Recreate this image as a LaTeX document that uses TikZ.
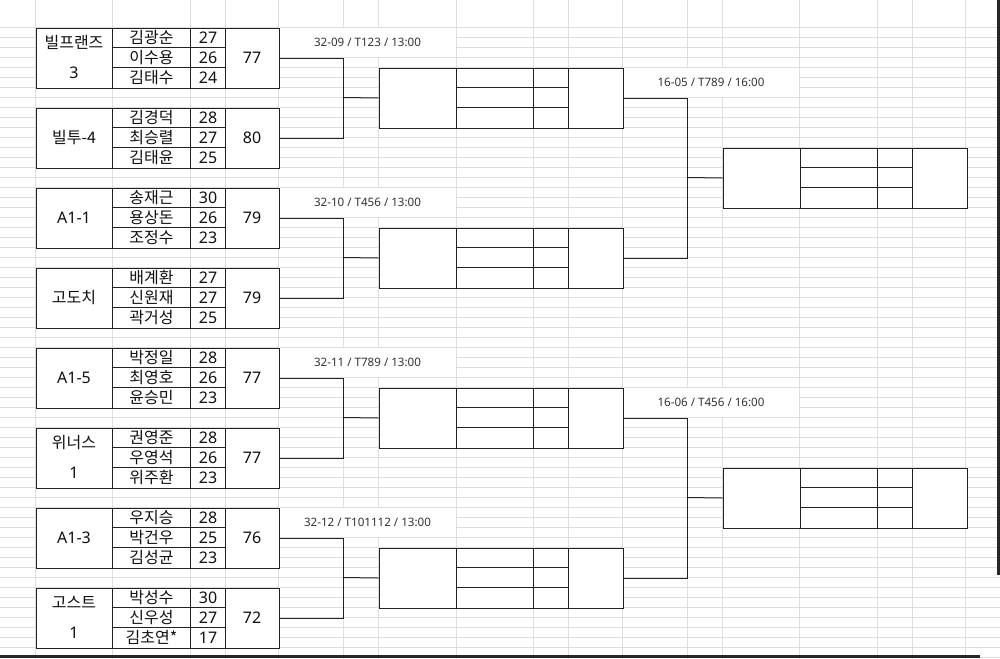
\documentclass[tikz,border=0pt]{standalone}
\usepackage{fontspec}
\setmainfont{Noto Sans}
\newfontfamily\kr{Noto Sans CJK KR}
\usetikzlibrary{calc}
\definecolor{gridc}{HTML}{DEDEDE}
\definecolor{linec}{HTML}{222222}
\definecolor{txtc}{HTML}{111111}
\definecolor{lblc}{HTML}{333333}
\tikzset{
  gridline/.style={draw=gridc, line width=0.75pt},
  boxst/.style={draw=linec, fill=white, line width=0.75pt, inner sep=0pt},
  bx/.style={draw=linec, line width=0.75pt},
  conn/.style={draw=linec, line width=0.75pt},
  krtxt/.style={inner sep=0pt, text=txtc, font=\kr\fontsize{12}{14}\selectfont},
  numtxt/.style={inner sep=0pt, text=txtc, font=\fontsize{12}{14}\selectfont},
  lbl/.style={inner sep=0pt, text=lblc, font=\fontsize{8.7}{10}\selectfont},
}
\newcommand\teambox[9]{%
  \node[boxst, minimum width=182.25pt, minimum height=45pt, anchor=north west] (#1) at (35,#2) {};
  \draw[bx] (112,#2) -- (112,{#2+60}) (190,#2) -- (190,{#2+60}) (225,#2) -- (225,{#2+60});
  \draw[bx] (112,{#2+20}) -- (225,{#2+20}) (112,{#2+40}) -- (225,{#2+40});
  \node[krtxt] (#1p1) at (151,{#2+10}) {#3};
  \node[krtxt] (#1p2) at (151,{#2+30}) {#5};
  \node[krtxt] (#1p3) at (151,{#2+50}) {#7};
  \node[numtxt] (#1s1) at (207.5,{#2+10}) {#4};
  \node[numtxt] (#1s2) at (207.5,{#2+30}) {#6};
  \node[numtxt] (#1s3) at (207.5,{#2+50}) {#8};
  \node[numtxt] (#1tot) at (251.5,{#2+30}) {#9};
}
\newcommand\matchbox[3]{%
  \node[boxst, minimum width=183pt, minimum height=45pt, anchor=north west] (#1) at (#2,#3) {};
  \draw[bx] ({#2+78},#3) -- ({#2+78},{#3+60}) ({#2+155},#3) -- ({#2+155},{#3+60}) ({#2+190},#3) -- ({#2+190},{#3+60});
  \draw[bx] ({#2+78},{#3+20}) -- ({#2+190},{#3+20}) ({#2+78},{#3+40}) -- ({#2+190},{#3+40});
}
\begin{document}
\begin{tikzpicture}[x=0.75pt,y=-0.75pt]
\useasboundingbox (0,0) rectangle (1000,658);
\fill[white] (0,0) rectangle (1000,658);
\begin{scope}[shift={(0.5,0.5)}]
% spreadsheet grid
\foreach \x in {35,112,190,225,278,343,378,456,533,568,622,687,722,799,877,912,965}
  \draw[gridline] (\x,-1) -- (\x,658);
\foreach \y in {27,37,...,657}
  \draw[gridline] (-1,\y) -- (1000,\y);
% merged label cells
\foreach \y in {27,187,347,507}
  \fill[white] (278.6,{\y+0.6}) rectangle (455.4,{\y+29.4});
\foreach \y in {67,387}
  \fill[white] (622.6,{\y+0.6}) rectangle (798.4,{\y+29.4});

% team boxes
\teambox{t1}{27}{김광순}{27}{이수용}{26}{김태수}{24}{77}
\teambox{t2}{107}{김경덕}{28}{최승렬}{27}{김태윤}{25}{80}
\teambox{t3}{187}{송재근}{30}{용상돈}{26}{조정수}{23}{79}
\teambox{t4}{267}{배계환}{27}{신원재}{27}{곽거성}{25}{79}
\teambox{t5}{347}{박정일}{28}{최영호}{26}{윤승민}{23}{77}
\teambox{t6}{427}{권영준}{28}{우영석}{26}{위주환}{23}{77}
\teambox{t7}{507}{우지승}{28}{박건우}{25}{김성균}{23}{76}
\teambox{t8}{587}{박성수}{30}{신우성}{27}{김초연*}{17}{72}
% team names
\node[krtxt] (n1a) at (73.5,42) {빌프랜즈};
\node[numtxt] (n1b) at (73.5,72) {3};
\node[krtxt] (n2) at (73.5,137) {빌투-4};
\node[numtxt] (n3) at (73.5,217) {A1-1};
\node[krtxt] (n4) at (73.5,297) {고도치};
\node[numtxt] (n5) at (73.5,377) {A1-5};
\node[krtxt] (n6a) at (73.5,442) {위너스};
\node[numtxt] (n6b) at (73.5,472) {1};
\node[numtxt] (n7) at (73.5,537) {A1-3};
\node[krtxt] (n8a) at (73.5,602) {고스트};
\node[numtxt] (n8b) at (73.5,632) {1};

% round 2 and round 3 boxes
\matchbox{r1}{378}{67}
\matchbox{r2}{378}{227}
\matchbox{r3}{378}{387}
\matchbox{r4}{378}{547}
\matchbox{f1}{722}{147}
\matchbox{f2}{722}{467}

% labels
\node[lbl] (l1) at (367,42) {32-09 / T123 / 13:00};
\node[lbl] (l2) at (367,202) {32-10 / T456 / 13:00};
\node[lbl] (l3) at (367,362) {32-11 / T789 / 13:00};
\node[lbl] (l4) at (367,522) {32-12 / T101112 / 13:00};
\node[lbl] (l5) at (710.5,82) {16-05 / T789 / 16:00};
\node[lbl] (l6) at (710.5,402) {16-06 / T456 / 16:00};

% junctions
\coordinate (j1) at (343,97);
\coordinate (j2) at (343,257);
\coordinate (j3) at (343,417);
\coordinate (j4) at (343,577);
\coordinate (k1) at (687,177);
\coordinate (k2) at (687,497);

% connectors
\draw[conn] (t1.east) -| (j1) |- (t2.east);
\draw[conn] (j1) -- (r1.west);
\draw[conn] (t3.east) -| (j2) |- (t4.east);
\draw[conn] (j2) -- (r2.west);
\draw[conn] (t5.east) -| (j3) |- (t6.east);
\draw[conn] (j3) -- (r3.west);
\draw[conn] (t7.east) -| (j4) |- (t8.east);
\draw[conn] (j4) -- (r4.west);
\draw[conn] (r1.east) -| (k1) |- (r2.east);
\draw[conn] (k1) -- (f1.west);
\draw[conn] (r3.east) -| (k2) |- (r4.east);
\draw[conn] (k2) -- (f2.west);
\end{scope}
% window edges
\fill[black!85] (997,0) rectangle (1000,575);
\fill[black!85] (0,655) rectangle (980,658);
\end{tikzpicture}
\end{document}
